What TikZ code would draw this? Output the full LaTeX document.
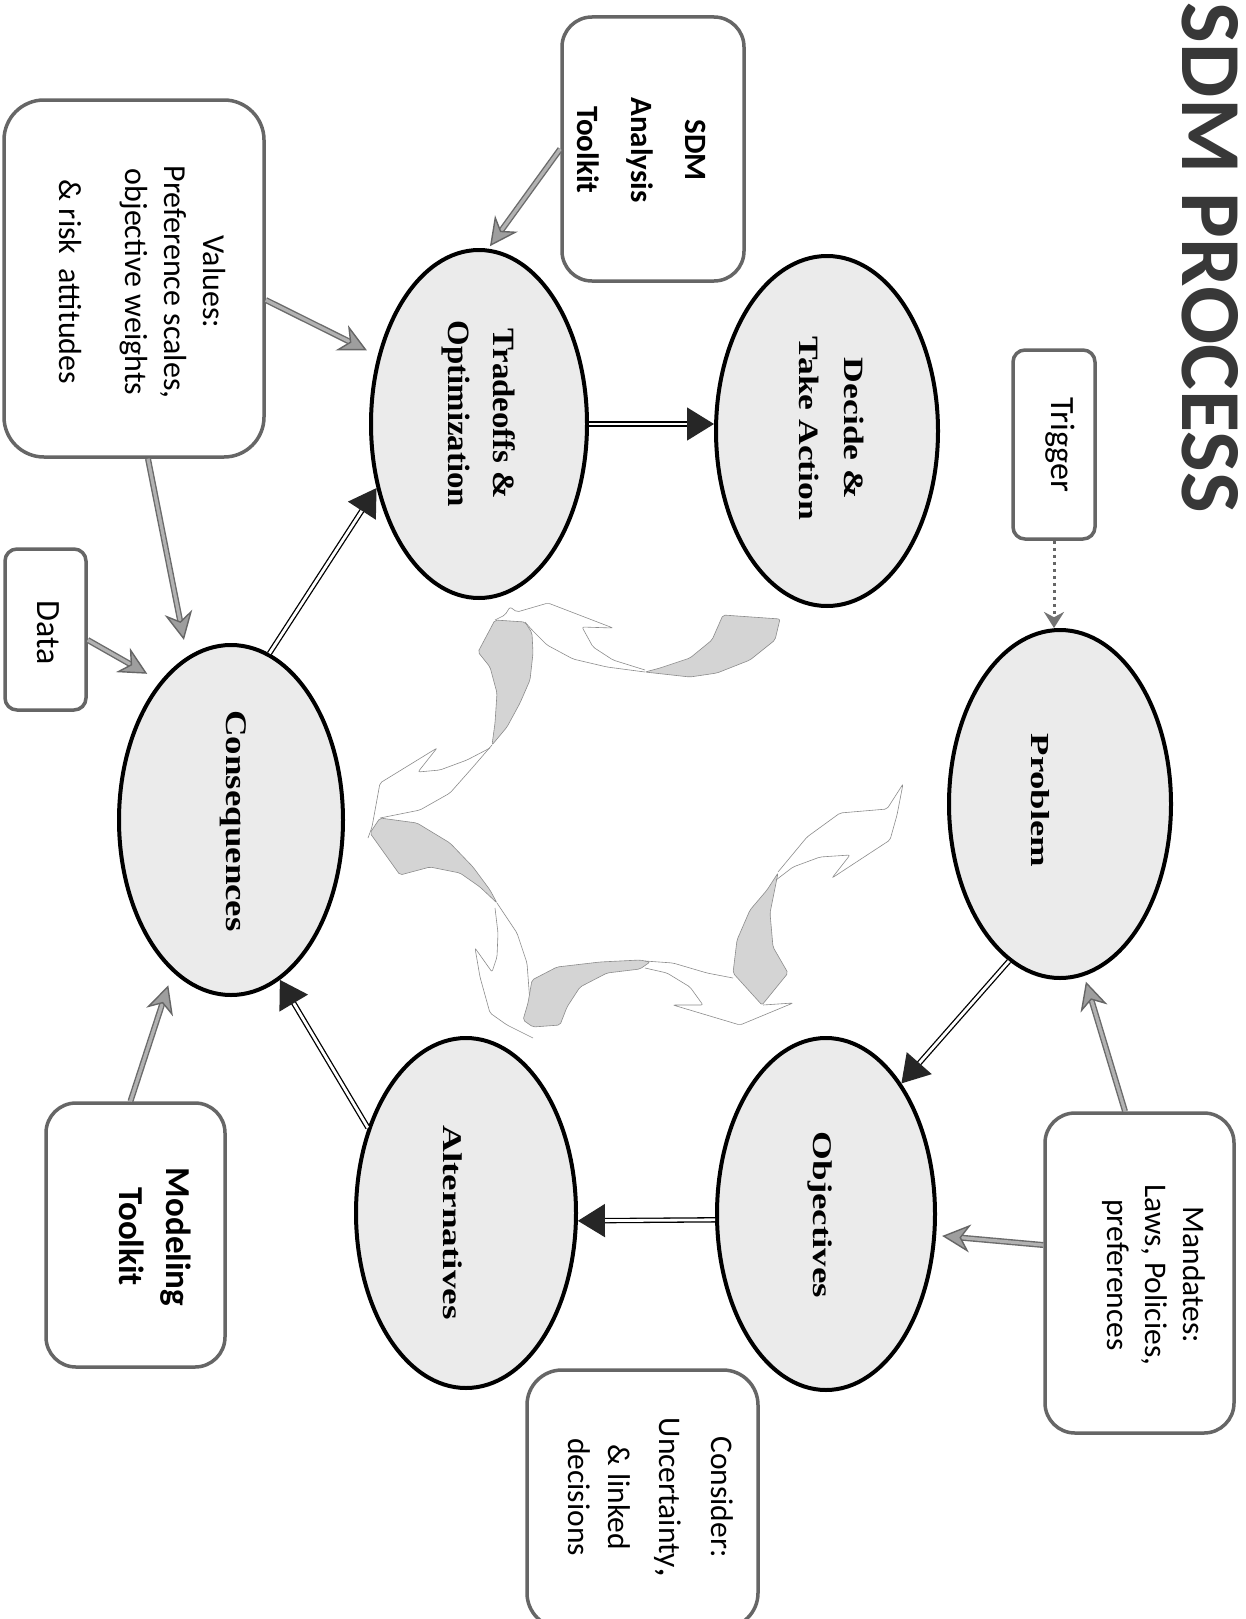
\documentclass[tikz,border=0pt]{standalone}
\usepackage{graphicx}
\usepackage{fontspec}
\setmainfont{Liberation Serif}
\newfontfamily\sansf{Carlito}
\newfontfamily\serf{Liberation Serif}
\usetikzlibrary{arrows.meta,shapes.geometric}
\newcommand\stx[2]{\scalebox{#1}[1]{#2}}
\newcommand\mlt[2]{\scalebox{#1}[1]{\begin{tabular}{@{}c@{}}#2\end{tabular}}}
\begin{document}
\begin{tikzpicture}[x=1pt,y=-1pt,
 ell/.style={ellipse, draw=black, line width=4pt, fill=black!8, inner sep=0pt},
 bx/.style={rectangle, draw=black!60, line width=3.5pt, fill=white, inner sep=0pt},
 rt/.style={rotate=-90, inner sep=0pt},
 cyc/.style={draw=black, line width=1.3pt, double=white, double distance=2.8pt, -{Triangle[length=27pt,width=33pt,color=black!85]}},
 inp/.style={draw=black!58, line width=1.4pt, double=black!30, double distance=3.2pt, -{Stealth[length=28pt,width=28pt,inset=9pt,color=black!60,fill=black!38]}},
 dshade/.style={draw=black!45, line width=0.6pt, fill=black!17, rounded corners=2pt},
 dline/.style={draw=black!45, line width=0.6pt, rounded corners=2pt}]
\useasboundingbox (0,0) rectangle (1246,1619);
\clip (0,0) rectangle (1246,1619);
\fill[white] (0,0) rectangle (1246,1619);

% ---- decorative cycle arrows ----
% A
\path[dshade] (723,615) -- (780,619) -- (775,640) -- (750,660) -- (717,673) -- (690,677) -- (645,672) -- (660,668) -- (690,658) -- (712,640) -- cycle;
\path[dline] (645,672) -- (607,667) -- (573,659) -- (547,645) -- (532,630) -- (525,622);
\path[dline] (645,670) -- (613,660) -- (593,647) -- (582,627) -- (613,628) -- (548,603) -- (517,612) -- (510,607) -- (505,615) -- (495,620);
% B
\path[dshade] (495,620) -- (525,622) -- (532,633) -- (533,653) -- (530,680) -- (520,703) -- (507,727) -- (492,745) -- (495,723) -- (497,693) -- (490,667) -- (478,652) -- cycle;
\path[dline] (492,745) -- (473,767) -- (450,793) -- (420,810) -- (380,818);
\path[dline] (490,748) -- (467,760) -- (440,770) -- (418,772) -- (437,748) -- (380,783) -- (372,827) -- (368,838);
% C
\path[dshade] (380,818) -- (417,823) -- (450,843) -- (473,867) -- (490,890) -- (497,903) -- (480,887) -- (460,873) -- (430,867) -- (400,875) -- (370,833) -- cycle;
\path[dline] (497,903) -- (517,933) -- (527,963) -- (530,1003) -- (528,1018);
\path[dline] (495,908) -- (498,933) -- (497,957) -- (492,972) -- (475,948) -- (480,977) -- (490,1013) -- (507,1025) -- (533,1038);
% D
\path[dshade] (532,980) -- (557,967) -- (600,962) -- (640,960) -- (650,962) -- (640,969) -- (607,973) -- (580,987) -- (567,1007) -- (560,1025) -- (533,1027) -- (523,1020) -- (528,1003) -- cycle;
\path[dline] (645,961) -- (673,963) -- (707,973) -- (733,978);
\path[dline] (645,968) -- (667,973) -- (690,987) -- (703,1005) -- (673,1005) -- (740,1025) -- (793,1003) -- (763,1005);
% E
\path[dshade] (762,1005) -- (733,973) -- (737,940) -- (750,910) -- (767,890) -- (778,873) -- (770,913) -- (773,947) -- (788,973) -- cycle;
\path[dline] (778,872) -- (807,837) -- (840,813) -- (887,809) -- (903,784) -- (897,815) -- (890,840) -- (832,878) -- (850,855) -- (820,857) -- (793,867) -- (776,880);

% ---- title ----
\node[rt, font=\sansf\bfseries, text=black!78] (title) at (1210.5,258) {\resizebox{510pt}{56pt}{SDM PROCESS}};

% ---- ellipses ----
\node[ell, minimum width=222pt, minimum height=350pt] (dec) at (827,431) {};
\node[ell, minimum width=216pt, minimum height=348pt] (trd) at (479,424) {};
\node[ell, minimum width=222pt, minimum height=348pt] (prob) at (1060,804) {};
\node[ell, minimum width=224pt, minimum height=350pt] (cons) at (231,820) {};
\node[ell, minimum width=218pt, minimum height=352pt] (obj) at (826,1214) {};
\node[ell, minimum width=220pt, minimum height=350pt] (alt) at (466,1213) {};

\node[rt, font=\serf\bfseries\fontsize{28}{45.5}\selectfont] (decT) at (830.9,428.5) {\mlt{1.27}{Decide \&\\Take Action}};
\node[rt, font=\serf\bfseries\fontsize{31}{45.3}\selectfont] (trdT) at (480.4,414) {\mlt{1.06}{Tradeoffs \&\\Optimization}};
\node[rt, font=\serf\bfseries\fontsize{26}{30}\selectfont] (probT) at (1040,800.5) {\stx{1.41}{Problem}};
\node[rt, font=\serf\bfseries\fontsize{30}{34}\selectfont] (consT) at (233.5,821) {\stx{1.23}{Consequences}};
\node[rt, font=\serf\bfseries\fontsize{27}{31}\selectfont] (objT) at (819.5,1215) {\stx{1.37}{Objectives}};
\node[rt, font=\serf\bfseries\fontsize{27}{31}\selectfont] (altT) at (452.5,1222.5) {\stx{1.38}{Alternatives}};

% ---- boxes ----
\node[bx, rounded corners=30pt, minimum width=182pt, minimum height=264pt] (sdm) at (653,149) {};
\node[bx, rounded corners=40pt, minimum width=260pt, minimum height=357pt] (vals) at (134,278.5) {};
\node[bx, rounded corners=12pt, minimum width=82pt, minimum height=189pt] (trig) at (1054,444.5) {};
\node[bx, rounded corners=12pt, minimum width=81pt, minimum height=161pt] (data) at (45.5,629.5) {};
\node[bx, rounded corners=30pt, minimum width=189pt, minimum height=320pt] (mand) at (1139.5,1273) {};
\node[bx, rounded corners=30pt, minimum width=179pt, minimum height=264pt] (mod) at (135.5,1235) {};
\node[bx, rounded corners=35pt, minimum width=231pt, minimum height=258pt] (cnsd) at (642.5,1499) {};

\node[rt, font=\sansf\bfseries\fontsize{31}{54}\selectfont] (sdmT) at (641.8,150) {\mlt{1}{SDM\\Analysis\\Toolkit}};
\node[rt, font=\sansf\fontsize{32}{39}\selectfont] (valsT) at (138.8,282) {\mlt{1}{Values:\\Preference scales,\\objective weights\\[27pt]\& risk\ \ attitudes}};
\node[rt, font=\sansf\fontsize{34}{40}\selectfont] (trigT) at (1060.5,444.5) {Trigger};
\node[rt, font=\sansf\fontsize{34}{40}\selectfont] (dataT) at (48,633) {Data};
\node[rt, font=\sansf\fontsize{31.5}{38.2}\selectfont] (mandT) at (1153.4,1275) {\mlt{1}{Mandates:\\Laws, Policies,\\preferences}};
\node[rt, font=\sansf\bfseries\fontsize{35}{47.4}\selectfont] (modT) at (152.2,1237) {\mlt{1}{Modeling\\Toolkit}};
\node[rt, font=\sansf\fontsize{31.5}{51.5}\selectfont] (cnsdT) at (649.8,1497) {\mlt{1}{Consider:\\Uncertainty{\bfseries,}\\\& linked\\[-11.5pt]decisions}};

% ---- cycle connectors ----
\draw[cyc] (prob.252) -- (obj.60);
\draw[cyc] (obj.183) -- (alt.356);
\draw[cyc] (alt.139) -- (cons.287);
\draw[cyc] (cons.77) -- (trd.212);
\draw[cyc] (trd.east) -- (trd.east -| dec.west);

% ---- input connectors ----
\draw[inp, shorten >=3pt] (sdm.west) -- (trd.87);
\draw[inp, shorten >=12pt] ([yshift=-21.5pt]vals.east) -- (trd.146);
\draw[inp, shorten >=17pt] ([xshift=14pt]vals.south) -- (cons.105);
\draw[inp, shorten >=15pt] ([yshift=-10.5pt]data.east) -- (cons.117);
\draw[inp, shorten >=14pt] ([xshift=-5pt]mod.north) -- (cons.249);
\draw[inp, shorten >=6pt] ([xshift=-14.5pt]mand.north) -- (prob.278);
\draw[inp, shorten >=6pt] ([yshift=28pt]mand.west) -- (obj.349);
\draw[draw=black!60, line width=3pt, dash pattern=on 3pt off 4pt, -{Stealth[length=16pt,width=20pt,color=black!55]}] (trig.south) -- (trig.south |- prob.north);
\end{tikzpicture}
\end{document}
